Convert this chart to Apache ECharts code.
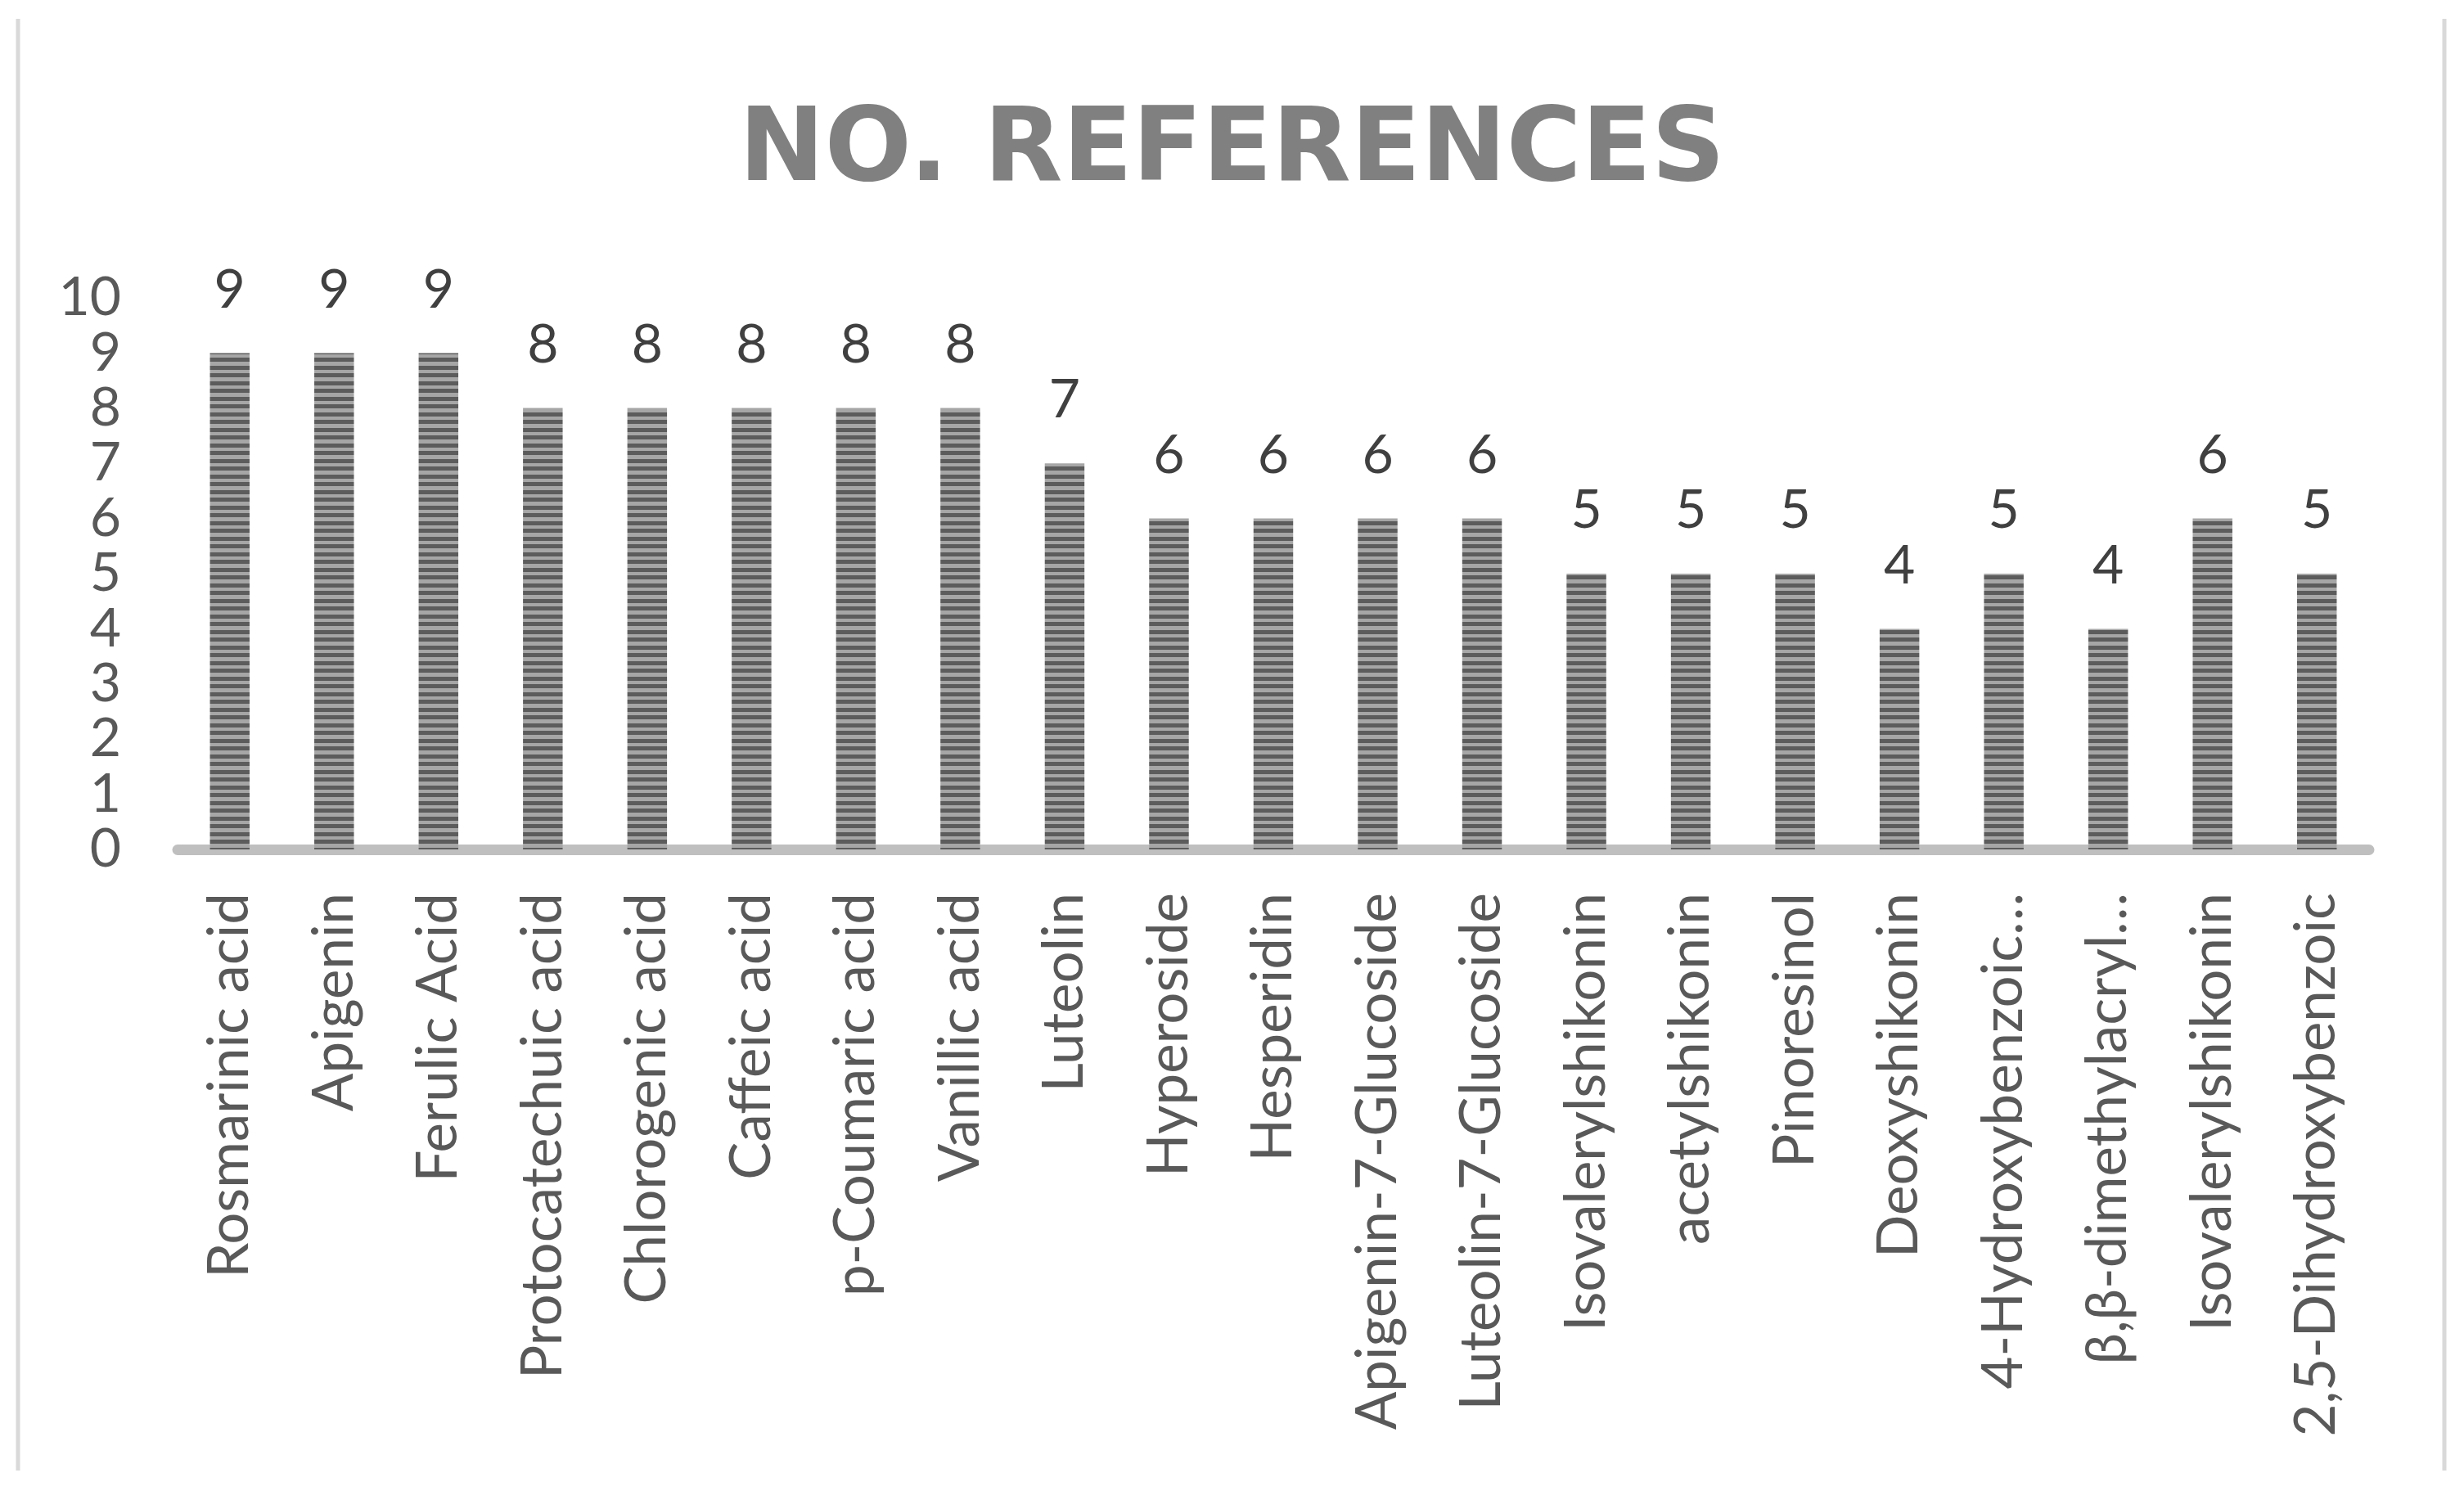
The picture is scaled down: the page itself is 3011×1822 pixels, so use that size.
<!DOCTYPE html>
<html>
<head>
<meta charset="utf-8">
<script src="https://cdn.jsdelivr.net/npm/echarts@6/dist/echarts.min.js"></script>
<style>
html,body{margin:0;padding:0;background:#fff;}
#chart{width:3011px;height:1822px;}
</style>
</head>
<body>
<div id="chart"></div>
<script>
const categories = [
  'Rosmarinic acid','Apigenin','Ferulic Acid','Protocatechuic acid','Chlorogenic acid',
  'Caffeic acid','p-Coumaric acid','Vanillic acid','Luteolin','Hyperoside','Hesperidin',
  'Apigenin-7-Glucoside','Luteolin-7-Glucoside','Isovalerylshikonin','acetylshikonin',
  'Pinoresinol','Deoxyshikonin','4-Hydroxybenzoic…','β,β-dimethylacryl…',
  'Isovalerylshikonin','2,5-Dihydroxybenzoic'
];
const references = [9,9,9,8,8,8,8,8,7,6,6,6,6,5,5,5,4,5,4,6,5];
const yTicks = [0,1,2,3,4,5,6,7,8,9,10];

// horizontal stripe pattern
const pc = document.createElement('canvas');
pc.width = 8; pc.height = 19;
const px = pc.getContext('2d');
px.fillStyle = '#a6a6a6'; px.fillRect(0,0,8,19);
px.fillStyle = '#5c5c5c'; px.fillRect(0,0,8,5); px.fillRect(0,10,8,5);

const chart = echarts.init(document.getElementById('chart'), null, {renderer:'canvas'});
chart.setOption({
  animation: false,
  backgroundColor: '#ffffff',
  title: {
    text: 'NO. REFERENCES',
    left: 'center',
    top: 120,
    textStyle: {fontFamily: 'DejaVu Sans', fontWeight: 'bold', fontSize: 125, color: '#808080'}
  },
  graphic: [
    {type:'line', shape:{x1:22, y1:23, x2:22, y2:1797}, style:{stroke:'#d9d9d9', lineWidth:5}},
    {type:'line', shape:{x1:2987, y1:23, x2:2987, y2:1797}, style:{stroke:'#d9d9d9', lineWidth:5}}
  ],
  grid: {left: 217, right: 116, top: 364, bottom: 784, containLabel: false},
  xAxis: {
    type: 'category',
    data: categories,
    offset: 7,
    axisTick: {show: false},
    axisLine: {lineStyle: {color: '#bfbfbf', width: 13}},
    axisLabel: {
      rotate: 90, interval: 0, margin: 46,
      fontFamily: 'Lato', fontSize: 69, color: '#595959'
    }
  },
  yAxis: {
    type: 'value',
    min: yTicks[0], max: yTicks[yTicks.length-1], interval: 1,
    splitLine: {show: false},
    axisLine: {show: false},
    axisTick: {show: false},
    axisLabel: {margin: 69, fontFamily: 'Lato', fontSize: 66, color: '#595959'}
  },
  series: [{
    type: 'bar',
    data: references,
    barWidth: '38%',
    itemStyle: {color: {image: pc, repeat: 'repeat'}},
    label: {
      show: true, position: 'top', distance: 44,
      fontFamily: 'Lato', fontSize: 66, color: '#404040'
    }
  }]
});
</script>
</body>
</html>
